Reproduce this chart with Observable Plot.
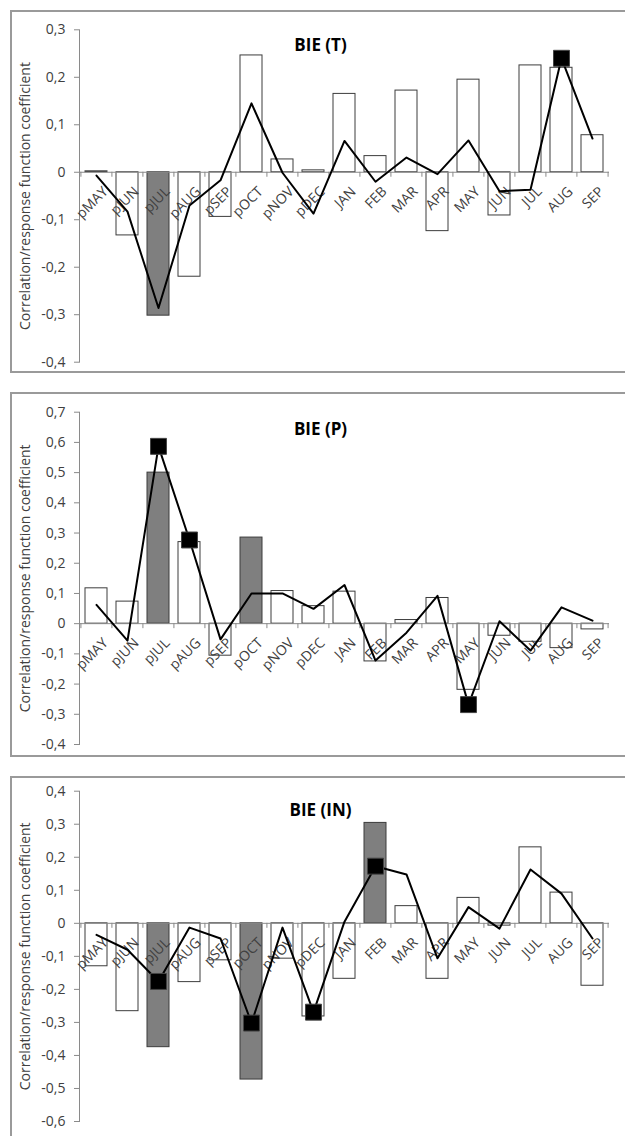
<!DOCTYPE html>
<html><head><meta charset="utf-8">
<script src="https://cdn.jsdelivr.net/npm/d3@7"></script>
<script src="https://cdn.jsdelivr.net/npm/@observablehq/plot@0.6"></script>
<style>
body{margin:0;background:#fff;font-family:"Open Sans",sans-serif;}
#wrap{position:relative;width:625px;height:1136px;overflow:hidden;background:#fff;}
.frame{position:absolute;border:2px solid #9a9a9a;box-sizing:border-box;}
.panel{position:absolute;left:0;}
</style></head><body><div id="wrap"></div>
<script>
// ---- data ----
const months = ["pMAY","pJUN","pJUL","pAUG","pSEP","pOCT","pNOV","pDEC","JAN","FEB","MAR","APR","MAY","JUN","JUL","AUG","SEP"];
const yLabel = "Correlation/response function coefficient";

const titleT = "BIE (T)";
const corrT = [0.002,-0.133,-0.302,-0.22,-0.094,0.246,0.027,0.004,0.165,0.034,0.172,-0.124,0.195,-0.091,0.225,0.22,0.078];
const corrSigT = ["pJUL"];
const respT = [-0.007,-0.083,-0.286,-0.07,-0.017,0.145,-0.001,-0.087,0.066,-0.02,0.031,-0.004,0.067,-0.04,-0.037,0.24,0.071];
const respSigT = ["AUG"];
const ticksT = [-0.4,-0.3,-0.2,-0.1,0,0.1,0.2,0.3];

const titleP = "BIE (P)";
const corrP = [0.117,0.073,0.5,0.27,-0.106,0.285,0.108,0.058,0.106,-0.125,0.012,0.085,-0.219,-0.04,-0.06,-0.081,-0.019];
const corrSigP = ["pJUL","pOCT"];
const respP = [0.062,-0.056,0.587,0.277,-0.052,0.1,0.1,0.049,0.128,-0.122,-0.03,0.092,-0.268,0.008,-0.089,0.054,0.01];
const respSigP = ["pJUL","pAUG","MAY"];
const ticksP = [-0.4,-0.3,-0.2,-0.1,0,0.1,0.2,0.3,0.4,0.5,0.6,0.7];

const titleIN = "BIE (IN)";
const corrIN = [-0.13,-0.266,-0.375,-0.178,-0.112,-0.473,-0.107,-0.282,-0.168,0.304,0.052,-0.168,0.077,-0.007,0.23,0.093,-0.189];
const corrSigIN = ["pJUL","pOCT","FEB"];
const respIN = [-0.035,-0.08,-0.176,-0.013,-0.046,-0.302,-0.013,-0.269,0.005,0.173,0.148,-0.106,0.049,-0.016,0.163,0.09,-0.046];
const respSigIN = ["pJUL","pOCT","pDEC","FEB"];
const ticksIN = [-0.6,-0.5,-0.4,-0.3,-0.2,-0.1,0,0.1,0.2,0.3,0.4];

// ---- drawing ----
const wrap = document.getElementById("wrap");
const W = 625, ML = 79, MR = 16;
const fmt = d => d === 0 ? "0" : d.toFixed(1).replace(".", ",");

function panel(cfg) {
  const {title, corr, corrSig, resp, respSig, ticks, top, height, mt, mb, frameTop, frameH, titleDy} = cfg;
  const fr = document.createElement("div");
  fr.className = "frame";
  Object.assign(fr.style, {left: "10px", top: frameTop + "px", width: "700px", height: frameH + "px"});
  wrap.appendChild(fr);

  const rows = months.map((m, i) => ({m, corr: corr[i], resp: resp[i], cs: corrSig.includes(m), rs: respSig.includes(m)}));
  const half = (W - ML - MR) / months.length / 2;
  const plot = Plot.plot({
    width: W, height, marginLeft: ML, marginRight: MR, marginTop: mt, marginBottom: mb,
    style: {fontFamily: "'Open Sans', sans-serif", background: "transparent", overflow: "visible"},
    x: {type: "band", domain: months, paddingInner: 0.3, paddingOuter: 0.15, axis: null},
    y: {domain: [ticks[0], ticks[ticks.length - 1]], axis: null},
    marks: [
      Plot.barY(rows, {x: "m", y: "corr", fill: d => d.cs ? "#7f7f7f" : "#ffffff", stroke: "#3c3c3c", strokeWidth: 1}),
      Plot.ruleY([0], {stroke: "#8a8a8a", strokeWidth: 1}),
      Plot.ruleX(months, {x: d => d, y1: 0, y2: 0, insetBottom: -5, dx: -half, stroke: "#8a8a8a"}),
      Plot.ruleX([months[months.length - 1]], {x: d => d, y1: 0, y2: 0, insetBottom: -5, dx: half, stroke: "#8a8a8a"}),
      Plot.frame({anchor: "left", stroke: "#8a8a8a"}),
      Plot.axisY({ticks, tickFormat: fmt, tickSize: 5, tickPadding: 9, stroke: "#8a8a8a", fill: "#404040", fontSize: 14, label: null}),
      Plot.text(rows, {x: "m", y: () => 0, text: "m", rotate: -45, textAnchor: "end", dx: 9, dy: 17, fontSize: 14, fill: "#404040"}),
      Plot.line(rows, {x: "m", y: "resp", stroke: "#000", strokeWidth: 2}),
      Plot.dot(rows.filter(d => d.rs), {x: "m", y: "resp", symbol: "square", r: 9, fill: "#000", stroke: "#444", strokeWidth: 1}),
      Plot.text([title], {frameAnchor: "top", dx: -24, dy: titleDy, fontSize: 17, fontWeight: "bold", fill: "#000"}),
      Plot.text([yLabel], {frameAnchor: "left", textAnchor: "middle", rotate: -90, dx: -54, fontSize: 14, fill: "#404040"})
    ]
  });
  plot.classList.add("panel");
  plot.style.top = top + "px";
  wrap.appendChild(plot);
}

panel({title: titleT, corr: corrT, corrSig: corrSigT, resp: respT, respSig: respSigT, ticks: ticksT,
  top: 12, height: 360, mt: 17.3, mb: 10.3, frameTop: 10, frameH: 363, titleDy: 9});
panel({title: titleP, corr: corrP, corrSig: corrSigP, resp: respP, respSig: respSigP, ticks: ticksP,
  top: 393, height: 362, mt: 18.7, mb: 11, frameTop: 392, frameH: 365, titleDy: 11});
panel({title: titleIN, corr: corrIN, corrSig: corrSigIN, resp: respIN, respSig: respSigIN, ticks: ticksIN,
  top: 777, height: 359, mt: 13.7, mb: 15, frameTop: 776, frameH: 500, titleDy: 13});
</script></body></html>
